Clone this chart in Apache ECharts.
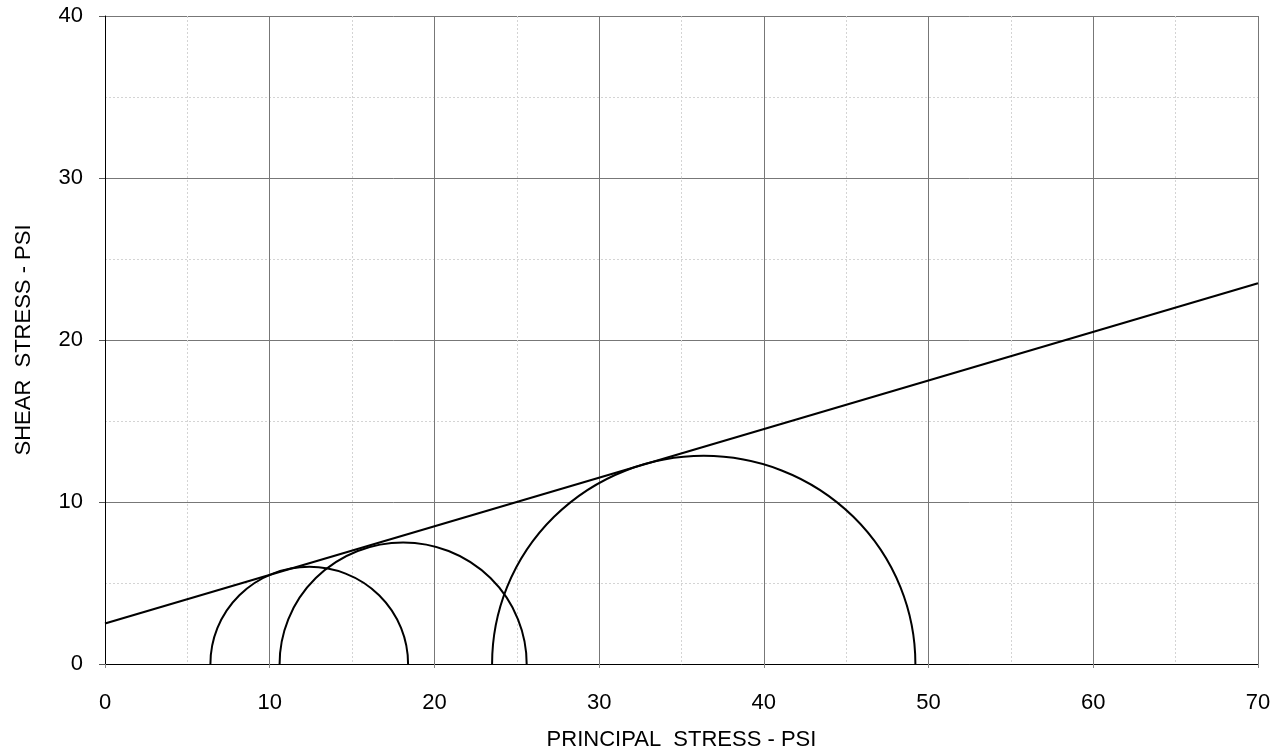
<!DOCTYPE html>
<html><head><meta charset="utf-8">
<script src="https://cdn.jsdelivr.net/npm/echarts@6/dist/echarts.min.js"></script>
<style>html,body{margin:0;padding:0;background:#fff}#c{width:1280px;height:755px}</style>
</head><body><div id="c"></div>
<script>
// Mohr circles: minor and major principal stresses (psi)
var sigma3 = [6.4, 10.6, 23.5];
var sigma1 = [18.4, 25.6, 49.2];
// Failure envelope end points [principal stress, shear stress]
var envelopeX = [0, 70];
var envelopeY = [2.5, 23.5];
var xTicks = [0, 10, 20, 30, 40, 50, 60, 70];
var yTicks = [0, 10, 20, 30, 40];

var circleData = sigma3.map(function (s3, i) { return [s3, sigma1[i]]; });
var envData = envelopeX.map(function (x, i) { return [x, envelopeY[i]]; });

var font = 'Liberation Sans, Arial, sans-serif';
var chart = echarts.init(document.getElementById('c'));
chart.setOption({
  animation: false,
  backgroundColor: '#fff',
  grid: { left: 105, right: 22, top: 16, bottom: 91, show: false, containLabel: false, outerBoundsMode: 'none' },
  xAxis: {
    type: 'value', min: 0, max: 70, interval: 10,
    name: 'PRINCIPAL  STRESS - PSI', nameLocation: 'middle', nameGap: 65,
    nameTextStyle: { fontFamily: font, fontSize: 22, color: '#000' },
    axisLine: { show: true, lineStyle: { color: '#000', width: 1 } },
    axisTick: { show: true, length: 4, lineStyle: { color: '#888' } },
    axisLabel: { fontFamily: font, fontSize: 22, color: '#000', margin: 28 },
    splitLine: { show: true, lineStyle: { color: '#777', width: 1 } },
    minorTick: { show: false, splitNumber: 2 },
    minorSplitLine: { show: true, lineStyle: { color: '#d4d4d4', type: [2, 2], width: 1 } }
  },
  yAxis: {
    type: 'value', min: 0, max: 40, interval: 10,
    name: 'SHEAR  STRESS - PSI', nameLocation: 'middle', nameGap: 70,
    nameTextStyle: { fontFamily: font, fontSize: 22, color: '#000' },
    axisLine: { show: true, lineStyle: { color: '#000', width: 1 } },
    axisTick: { show: true, length: 6, lineStyle: { color: '#555' } },
    axisLabel: { fontFamily: font, fontSize: 22, color: '#000', margin: 22 },
    splitLine: { show: true, lineStyle: { color: '#777', width: 1 } },
    minorTick: { show: false, splitNumber: 2 },
    minorSplitLine: { show: true, lineStyle: { color: '#d4d4d4', type: [2, 2], width: 1 } }
  },
  series: [
    {
      type: 'line', data: envData, symbol: 'none',
      lineStyle: { color: '#000', width: 2.2 }, z: 5
    },
    {
      type: 'custom', coordinateSystem: 'cartesian2d', data: circleData, z: 4,
      encode: { x: [0, 1] },
      renderItem: function (params, api) {
        var s3 = api.value(0), s1 = api.value(1);
        var c = (s3 + s1) / 2, r = (s1 - s3) / 2;
        var p1 = api.coord([s3, 0]);
        var p2 = api.coord([s1, 0]);
        var pt = api.coord([c, r]);
        var rx = (p2[0] - p1[0]) / 2;
        var ry = p1[1] - pt[1];
        return {
          type: 'path',
          shape: {
            pathData: 'M ' + p1[0] + ' ' + p1[1] + ' A ' + rx + ' ' + ry + ' 0 0 1 ' + p2[0] + ' ' + p2[1]
          },
          style: { fill: 'none', stroke: '#000', lineWidth: 2 }
        };
      }
    }
  ]
});
</script></body></html>
